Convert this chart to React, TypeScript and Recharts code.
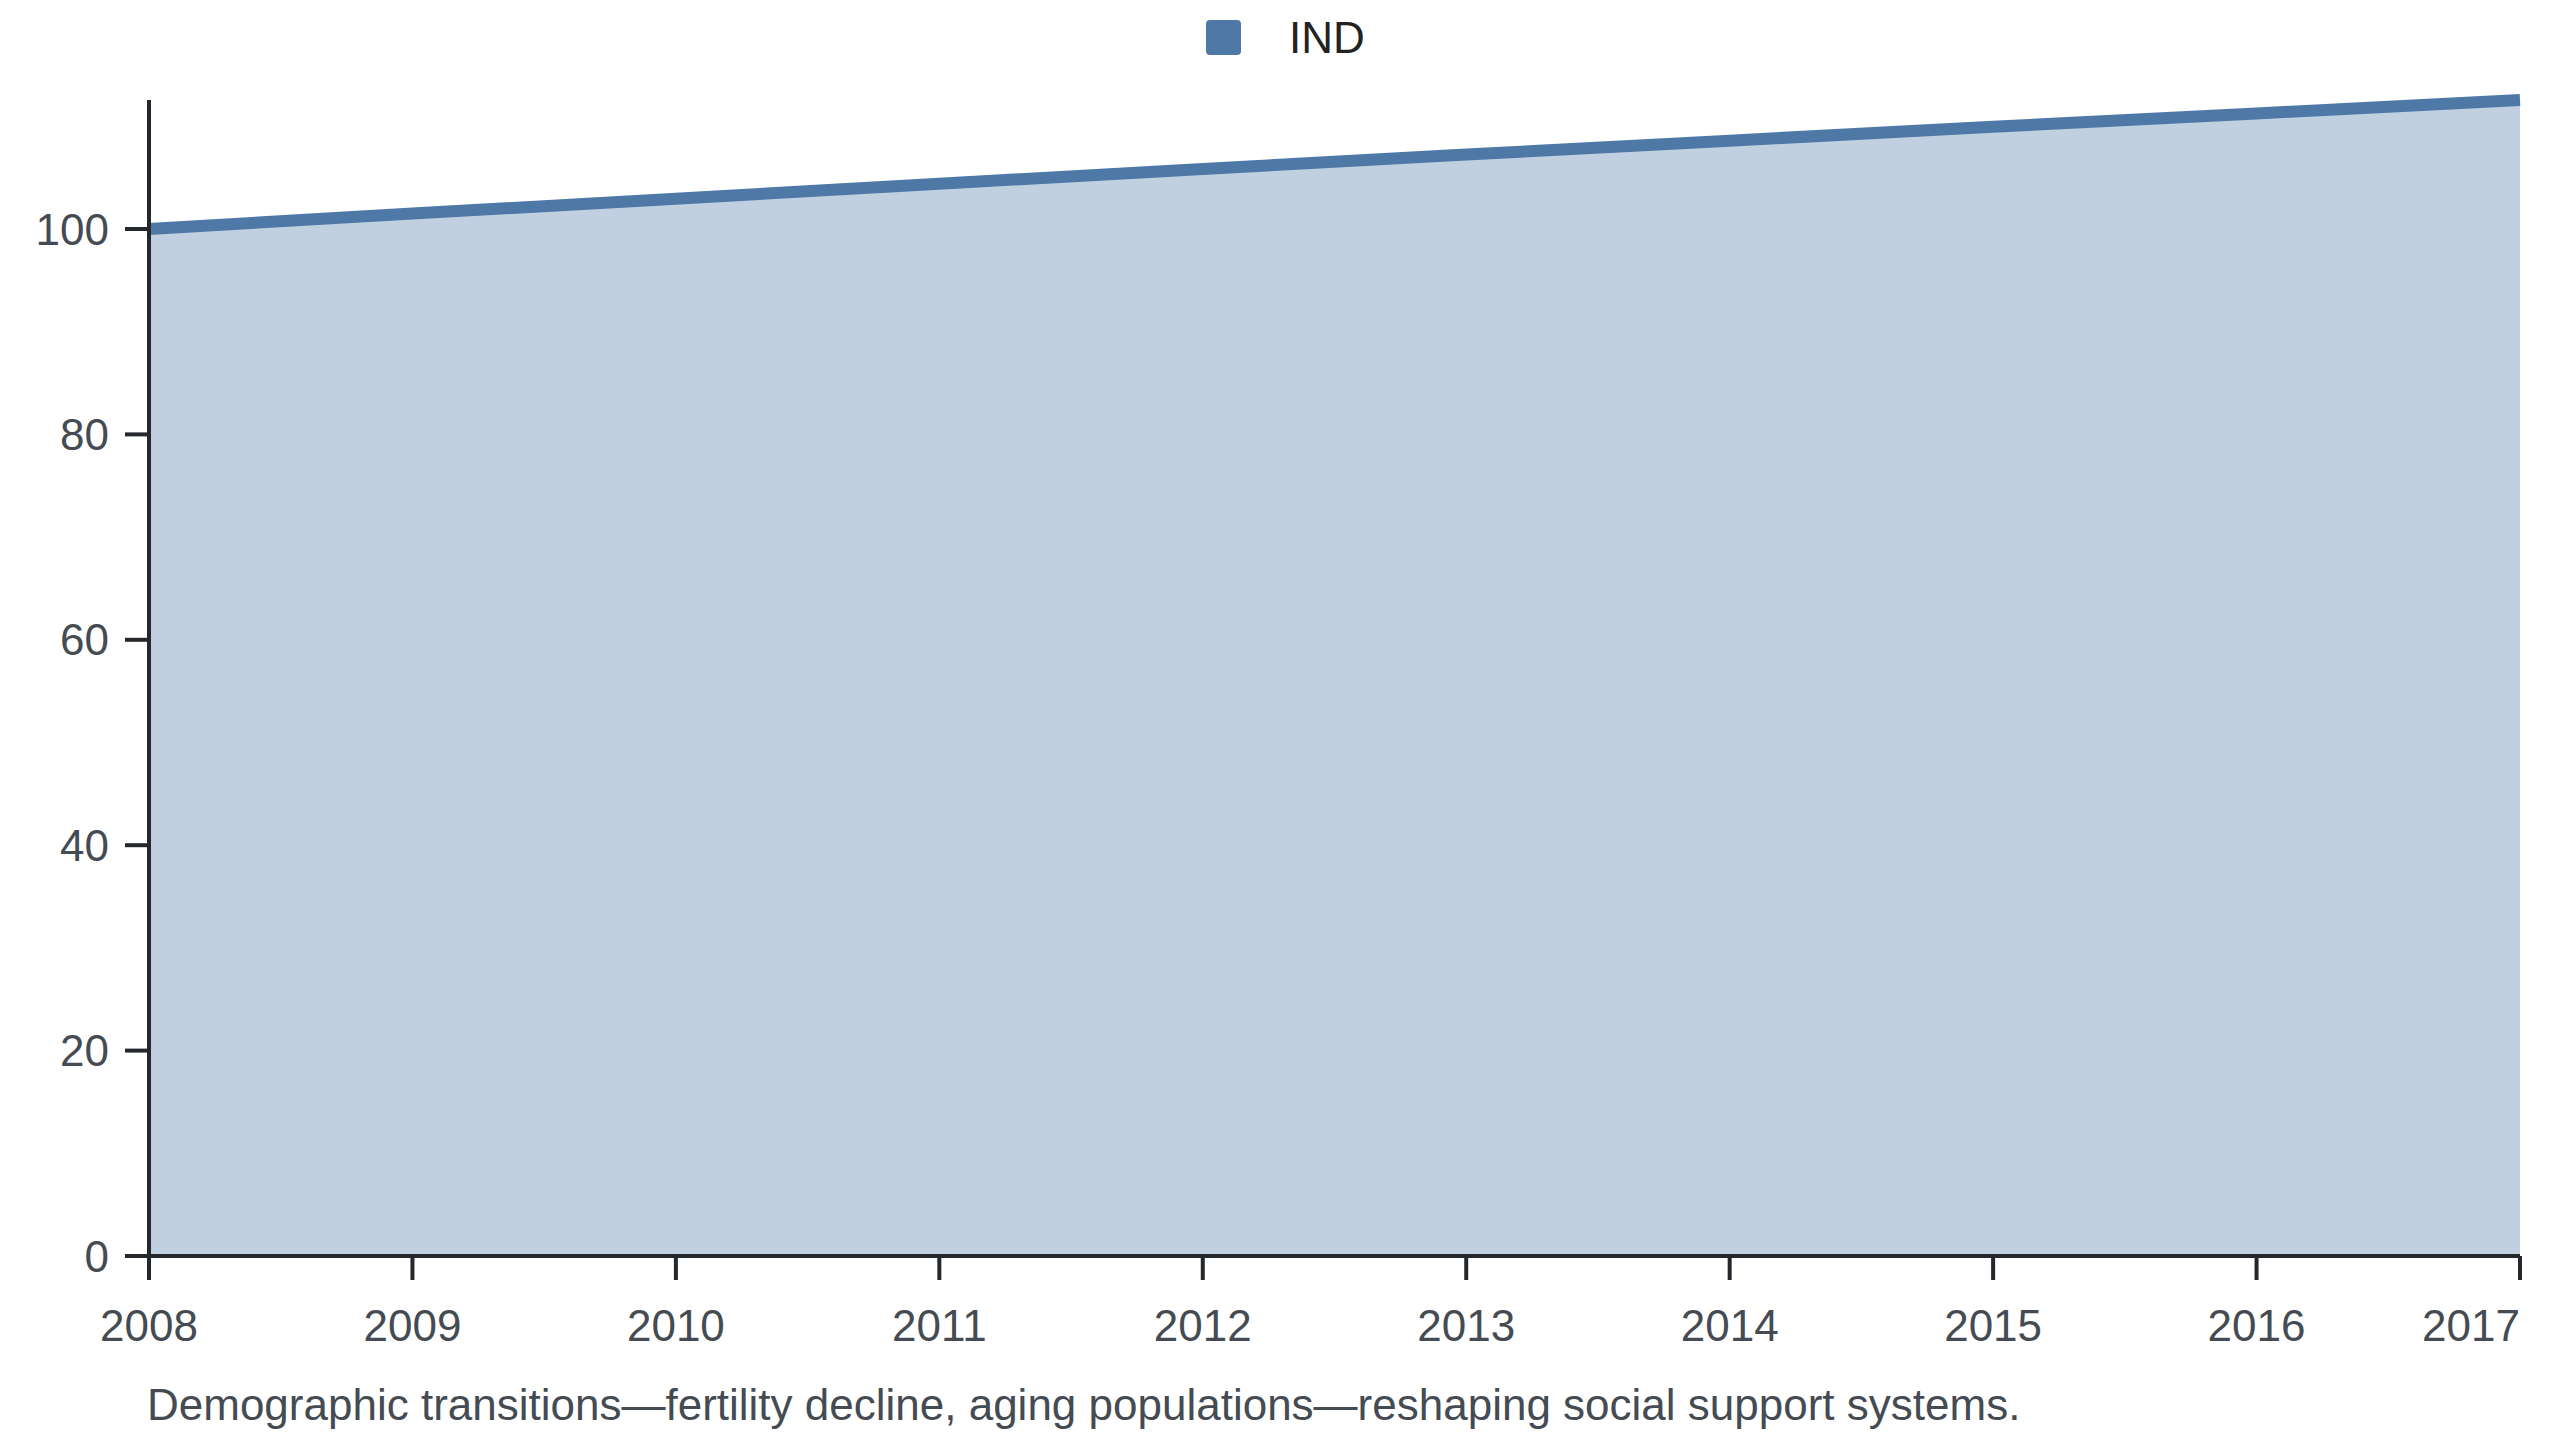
import React from "react";
import { AreaChart, Area, XAxis, YAxis } from "recharts";

const years: number[] = [2008, 2009, 2010, 2011, 2012, 2013, 2014, 2015, 2016, 2017];
const indValues: number[] = [100, 101.5, 102.95, 104.4, 105.85, 107.25, 108.6, 109.95, 111.25, 112.56];
const yTicks: number[] = [0, 20, 40, 60, 80, 100];
const seriesName = "IND";
const caption =
  "Demographic transitions\u2014fertility decline, aging populations\u2014reshaping social support systems.";

const data = years.map((y, i) => ({ year: y, IND: indValues[i] }));

const FONT = '"Liberation Sans", Arial, Helvetica, sans-serif';
const BLUE = "#4e79a7";
const AXIS = "#24272b";
const TICK_TEXT = "#454b52";

const XTick = (props: any) => {
  const { x, y, payload, index } = props;
  const last = index === years.length - 1;
  return (
    <text
      x={x}
      y={y}
      dy="0.71em"
      textAnchor={last ? "end" : "middle"}
      fill={TICK_TEXT}
      fontSize={44}
      fontFamily={FONT}
    >
      {payload.value}
    </text>
  );
};

export default function App() {
  return (
    <div style={{ position: "relative", width: 2544, height: 1424, fontFamily: FONT }}>
      <div
        style={{
          position: "absolute",
          left: 1198,
          top: 12,
          width: 35,
          height: 35,
          background: BLUE,
          borderRadius: 4,
        }}
      />
      <div
        style={{
          position: "absolute",
          left: 1281,
          top: 8,
          fontSize: 44,
          lineHeight: "44px",
          color: "#222222",
          whiteSpace: "nowrap",
        }}
      >
        {seriesName}
      </div>
      <AreaChart
        width={2544}
        height={1348}
        data={data}
        margin={{ top: 92, right: 32, bottom: 0, left: 0 }}
      >
        <XAxis
          dataKey="year"
          type="category"
          height={100}
          tickSize={24}
          tickMargin={30}
          axisLine={{ stroke: AXIS, strokeWidth: 4 }}
          tickLine={{ stroke: AXIS, strokeWidth: 4 }}
          tick={<XTick />}
          interval={0}
        />
        <YAxis
          width={141}
          domain={[0, "dataMax"]}
          ticks={yTicks}
          tickSize={24}
          tickMargin={16}
          axisLine={{ stroke: AXIS, strokeWidth: 4 }}
          tickLine={{ stroke: AXIS, strokeWidth: 4 }}
          tick={{ fill: TICK_TEXT, fontSize: 44, fontFamily: FONT }}
        />
        <Area
          type="linear"
          dataKey="IND"
          name={seriesName}
          stroke={BLUE}
          strokeWidth={12}
          fill={BLUE}
          fillOpacity={0.35}
          dot={false}
          activeDot={false}
          isAnimationActive={false}
        />
      </AreaChart>
      <div
        style={{
          position: "absolute",
          left: 139,
          top: 1375,
          fontSize: 44,
          lineHeight: "44px",
          color: TICK_TEXT,
          whiteSpace: "nowrap",
        }}
      >
        {caption}
      </div>
    </div>
  );
}
